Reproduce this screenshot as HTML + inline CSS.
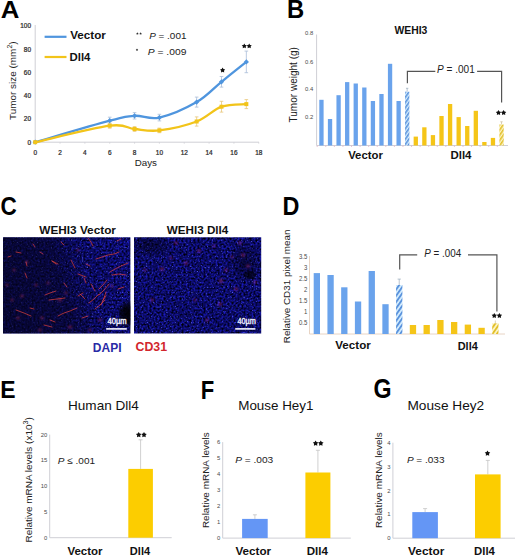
<!DOCTYPE html>
<html><head><meta charset="utf-8"><style>
html,body{margin:0;padding:0;background:#fff;}
svg{display:block;font-family:"Liberation Sans", sans-serif;}
</style></head><body>
<svg width="520" height="557" viewBox="0 0 520 557">
<rect width="520" height="557" fill="#fff"/>
<text transform="translate(0.71,18.29) scale(1.0556,0.9953)" font-size="24.4" fill="#000" font-weight="bold">A</text>
<line x1="35.20" y1="25.00" x2="35.20" y2="142.20" stroke="#cfcfd6" stroke-width="1" />
<line x1="35.20" y1="142.20" x2="259.00" y2="142.20" stroke="#cfcfd6" stroke-width="1" />
<text transform="translate(31.00,144.70) scale(0.9,1)" font-size="7.2" text-anchor="end" fill="#2a2a2a" stroke="#2a2a2a" stroke-width="0.25">0</text>
<text transform="translate(31.00,121.42) scale(0.9,1)" font-size="7.2" text-anchor="end" fill="#2a2a2a" stroke="#2a2a2a" stroke-width="0.25">20</text>
<text transform="translate(31.00,98.14) scale(0.9,1)" font-size="7.2" text-anchor="end" fill="#2a2a2a" stroke="#2a2a2a" stroke-width="0.25">40</text>
<text transform="translate(31.00,74.86) scale(0.9,1)" font-size="7.2" text-anchor="end" fill="#2a2a2a" stroke="#2a2a2a" stroke-width="0.25">60</text>
<text transform="translate(31.00,51.58) scale(0.9,1)" font-size="7.2" text-anchor="end" fill="#2a2a2a" stroke="#2a2a2a" stroke-width="0.25">80</text>
<text transform="translate(31.00,28.30) scale(0.9,1)" font-size="7.2" text-anchor="end" fill="#2a2a2a" stroke="#2a2a2a" stroke-width="0.25">100</text>
<text transform="translate(35.20,154.60) scale(0.9,1)" font-size="7.2" text-anchor="middle" fill="#2a2a2a" stroke="#2a2a2a" stroke-width="0.25">0</text>
<line x1="35.20" y1="142.20" x2="35.20" y2="143.70" stroke="#cfcfd6" stroke-width="0.8" />
<text transform="translate(60.04,154.60) scale(0.9,1)" font-size="7.2" text-anchor="middle" fill="#2a2a2a" stroke="#2a2a2a" stroke-width="0.25">2</text>
<line x1="60.04" y1="142.20" x2="60.04" y2="143.70" stroke="#cfcfd6" stroke-width="0.8" />
<text transform="translate(84.88,154.60) scale(0.9,1)" font-size="7.2" text-anchor="middle" fill="#2a2a2a" stroke="#2a2a2a" stroke-width="0.25">4</text>
<line x1="84.88" y1="142.20" x2="84.88" y2="143.70" stroke="#cfcfd6" stroke-width="0.8" />
<text transform="translate(109.72,154.60) scale(0.9,1)" font-size="7.2" text-anchor="middle" fill="#2a2a2a" stroke="#2a2a2a" stroke-width="0.25">6</text>
<line x1="109.72" y1="142.20" x2="109.72" y2="143.70" stroke="#cfcfd6" stroke-width="0.8" />
<text transform="translate(134.56,154.60) scale(0.9,1)" font-size="7.2" text-anchor="middle" fill="#2a2a2a" stroke="#2a2a2a" stroke-width="0.25">8</text>
<line x1="134.56" y1="142.20" x2="134.56" y2="143.70" stroke="#cfcfd6" stroke-width="0.8" />
<text transform="translate(159.40,154.60) scale(0.9,1)" font-size="7.2" text-anchor="middle" fill="#2a2a2a" stroke="#2a2a2a" stroke-width="0.25">10</text>
<line x1="159.40" y1="142.20" x2="159.40" y2="143.70" stroke="#cfcfd6" stroke-width="0.8" />
<text transform="translate(184.24,154.60) scale(0.9,1)" font-size="7.2" text-anchor="middle" fill="#2a2a2a" stroke="#2a2a2a" stroke-width="0.25">12</text>
<line x1="184.24" y1="142.20" x2="184.24" y2="143.70" stroke="#cfcfd6" stroke-width="0.8" />
<text transform="translate(209.08,154.60) scale(0.9,1)" font-size="7.2" text-anchor="middle" fill="#2a2a2a" stroke="#2a2a2a" stroke-width="0.25">14</text>
<line x1="209.08" y1="142.20" x2="209.08" y2="143.70" stroke="#cfcfd6" stroke-width="0.8" />
<text transform="translate(233.92,154.60) scale(0.9,1)" font-size="7.2" text-anchor="middle" fill="#2a2a2a" stroke="#2a2a2a" stroke-width="0.25">16</text>
<line x1="233.92" y1="142.20" x2="233.92" y2="143.70" stroke="#cfcfd6" stroke-width="0.8" />
<text transform="translate(258.76,154.60) scale(0.9,1)" font-size="7.2" text-anchor="middle" fill="#2a2a2a" stroke="#2a2a2a" stroke-width="0.25">18</text>
<line x1="258.76" y1="142.20" x2="258.76" y2="143.70" stroke="#cfcfd6" stroke-width="0.8" />
<text transform="translate(134.70,166.41) scale(1.0167,1.0000)" font-size="9.6" fill="#222">Days</text>
<text transform="translate(16.31,120.02) rotate(-90) scale(1.0154,1.0154)" font-size="9.8" fill="#222">Tumor size (mm<tspan font-size="7" dy="-3.8">2</tspan><tspan dy="3.8">)</tspan></text>
<line x1="109.72" y1="123.20" x2="109.72" y2="128.20" stroke="#e8c77a" stroke-width="0.8" />
<line x1="107.92" y1="123.20" x2="111.52" y2="123.20" stroke="#e8c77a" stroke-width="0.8" />
<line x1="107.92" y1="128.20" x2="111.52" y2="128.20" stroke="#e8c77a" stroke-width="0.8" />
<line x1="134.56" y1="126.60" x2="134.56" y2="131.40" stroke="#e8c77a" stroke-width="0.8" />
<line x1="132.76" y1="126.60" x2="136.36" y2="126.60" stroke="#e8c77a" stroke-width="0.8" />
<line x1="132.76" y1="131.40" x2="136.36" y2="131.40" stroke="#e8c77a" stroke-width="0.8" />
<line x1="159.40" y1="128.10" x2="159.40" y2="132.70" stroke="#e8c77a" stroke-width="0.8" />
<line x1="157.60" y1="128.10" x2="161.20" y2="128.10" stroke="#e8c77a" stroke-width="0.8" />
<line x1="157.60" y1="132.70" x2="161.20" y2="132.70" stroke="#e8c77a" stroke-width="0.8" />
<line x1="196.66" y1="116.90" x2="196.66" y2="126.10" stroke="#e8c77a" stroke-width="0.8" />
<line x1="194.86" y1="116.90" x2="198.46" y2="116.90" stroke="#e8c77a" stroke-width="0.8" />
<line x1="194.86" y1="126.10" x2="198.46" y2="126.10" stroke="#e8c77a" stroke-width="0.8" />
<line x1="221.50" y1="101.30" x2="221.50" y2="112.10" stroke="#e8c77a" stroke-width="0.8" />
<line x1="219.70" y1="101.30" x2="223.30" y2="101.30" stroke="#e8c77a" stroke-width="0.8" />
<line x1="219.70" y1="112.10" x2="223.30" y2="112.10" stroke="#e8c77a" stroke-width="0.8" />
<line x1="246.34" y1="99.60" x2="246.34" y2="108.60" stroke="#e8c77a" stroke-width="0.8" />
<line x1="244.54" y1="99.60" x2="248.14" y2="99.60" stroke="#e8c77a" stroke-width="0.8" />
<line x1="244.54" y1="108.60" x2="248.14" y2="108.60" stroke="#e8c77a" stroke-width="0.8" />
<line x1="109.72" y1="117.20" x2="109.72" y2="124.20" stroke="#a8bcd8" stroke-width="0.8" />
<line x1="107.92" y1="117.20" x2="111.52" y2="117.20" stroke="#a8bcd8" stroke-width="0.8" />
<line x1="107.92" y1="124.20" x2="111.52" y2="124.20" stroke="#a8bcd8" stroke-width="0.8" />
<line x1="134.56" y1="112.60" x2="134.56" y2="119.00" stroke="#a8bcd8" stroke-width="0.8" />
<line x1="132.76" y1="112.60" x2="136.36" y2="112.60" stroke="#a8bcd8" stroke-width="0.8" />
<line x1="132.76" y1="119.00" x2="136.36" y2="119.00" stroke="#a8bcd8" stroke-width="0.8" />
<line x1="159.40" y1="114.30" x2="159.40" y2="120.90" stroke="#a8bcd8" stroke-width="0.8" />
<line x1="157.60" y1="114.30" x2="161.20" y2="114.30" stroke="#a8bcd8" stroke-width="0.8" />
<line x1="157.60" y1="120.90" x2="161.20" y2="120.90" stroke="#a8bcd8" stroke-width="0.8" />
<line x1="196.66" y1="97.10" x2="196.66" y2="107.10" stroke="#a8bcd8" stroke-width="0.8" />
<line x1="194.86" y1="97.10" x2="198.46" y2="97.10" stroke="#a8bcd8" stroke-width="0.8" />
<line x1="194.86" y1="107.10" x2="198.46" y2="107.10" stroke="#a8bcd8" stroke-width="0.8" />
<line x1="221.50" y1="76.50" x2="221.50" y2="87.10" stroke="#a8bcd8" stroke-width="0.8" />
<line x1="219.70" y1="76.50" x2="223.30" y2="76.50" stroke="#a8bcd8" stroke-width="0.8" />
<line x1="219.70" y1="87.10" x2="223.30" y2="87.10" stroke="#a8bcd8" stroke-width="0.8" />
<line x1="246.34" y1="51.10" x2="246.34" y2="72.70" stroke="#a8bcd8" stroke-width="0.8" />
<line x1="244.54" y1="51.10" x2="248.14" y2="51.10" stroke="#a8bcd8" stroke-width="0.8" />
<line x1="244.54" y1="72.70" x2="248.14" y2="72.70" stroke="#a8bcd8" stroke-width="0.8" />
<path d="M35.20,142.20 C47.62,138.62 93.16,125.10 109.72,120.70 C126.28,116.30 126.28,116.32 134.56,115.80 C142.84,115.28 149.05,119.88 159.40,117.60 C169.75,115.32 186.31,108.07 196.66,102.10 C207.01,96.13 213.22,88.50 221.50,81.80 C229.78,75.10 242.20,65.22 246.34,61.90" fill="none" stroke="#4f95de" stroke-width="2.3"/>
<path d="M35.20,139.60 L37.80,142.20 L35.20,144.80 L32.60,142.20Z" fill="#4f95de"/>
<path d="M109.72,118.10 L112.32,120.70 L109.72,123.30 L107.12,120.70Z" fill="#4f95de"/>
<path d="M134.56,113.20 L137.16,115.80 L134.56,118.40 L131.96,115.80Z" fill="#4f95de"/>
<path d="M159.40,115.00 L162.00,117.60 L159.40,120.20 L156.80,117.60Z" fill="#4f95de"/>
<path d="M196.66,99.50 L199.26,102.10 L196.66,104.70 L194.06,102.10Z" fill="#4f95de"/>
<path d="M221.50,79.20 L224.10,81.80 L221.50,84.40 L218.90,81.80Z" fill="#4f95de"/>
<path d="M246.34,59.30 L248.94,61.90 L246.34,64.50 L243.74,61.90Z" fill="#4f95de"/>
<path d="M35.20,142.20 C47.62,139.45 93.16,127.90 109.72,125.70 C126.28,123.50 126.28,128.22 134.56,129.00 C142.84,129.78 149.05,131.65 159.40,130.40 C169.75,129.15 186.31,125.45 196.66,121.50 C207.01,117.55 213.22,109.60 221.50,106.70 C229.78,103.80 242.20,104.53 246.34,104.10" fill="none" stroke="#f2c41a" stroke-width="2.3"/>
<rect x="33.20" y="140.20" width="4" height="4" fill="#f2c41a"/>
<rect x="107.72" y="123.70" width="4" height="4" fill="#f2c41a"/>
<rect x="132.56" y="127.00" width="4" height="4" fill="#f2c41a"/>
<rect x="157.40" y="128.40" width="4" height="4" fill="#f2c41a"/>
<rect x="194.66" y="119.50" width="4" height="4" fill="#f2c41a"/>
<rect x="219.50" y="104.70" width="4" height="4" fill="#f2c41a"/>
<rect x="244.34" y="102.10" width="4" height="4" fill="#f2c41a"/>
<polygon points="222.60,67.60 223.47,69.10 225.17,69.47 224.01,70.76 224.19,72.48 222.60,71.78 221.01,72.48 221.19,70.76 220.03,69.47 221.73,69.10" fill="#111"/>
<polygon points="244.30,43.40 245.17,44.90 246.87,45.27 245.71,46.56 245.89,48.28 244.30,47.59 242.71,48.28 242.89,46.56 241.73,45.27 243.43,44.90" fill="#111"/>
<polygon points="249.20,43.40 250.07,44.90 251.77,45.27 250.61,46.56 250.79,48.28 249.20,47.59 247.61,48.28 247.79,46.56 246.63,45.27 248.33,44.90" fill="#111"/>
<line x1="44.60" y1="36.80" x2="66.50" y2="36.80" stroke="#4f95de" stroke-width="2.2" />
<line x1="44.60" y1="57.00" x2="66.50" y2="57.00" stroke="#f2c41a" stroke-width="2.2" />
<text transform="translate(70.14,39.35) scale(1.0152,1.0000)" font-size="11.5" fill="#111" font-weight="bold">Vector</text>
<text transform="translate(69.57,60.80) scale(0.9904,1.0000)" font-size="11.5" fill="#111" font-weight="bold">Dll4</text>
<polygon points="137.40,32.30 137.82,33.02 138.64,33.20 138.08,33.82 138.16,34.65 137.40,34.32 136.64,34.65 136.72,33.82 136.16,33.20 136.98,33.02" fill="#333"/>
<polygon points="140.60,32.30 141.02,33.02 141.84,33.20 141.28,33.82 141.36,34.65 140.60,34.32 139.84,34.65 139.92,33.82 139.36,33.20 140.18,33.02" fill="#333"/>
<polygon points="137.00,48.60 137.42,49.32 138.24,49.50 137.68,50.12 137.76,50.95 137.00,50.62 136.24,50.95 136.32,50.12 135.76,49.50 136.58,49.32" fill="#333"/>
<text transform="translate(149.15,38.76) scale(1.0147,1.0000)" font-size="9.8" fill="#222"><tspan font-style="italic">P</tspan> = .001</text>
<text transform="translate(147.80,55.43) scale(1.0498,1.0000)" font-size="9.8" fill="#222"><tspan font-style="italic">P</tspan> = .009</text>
<text transform="translate(286.94,18.10) scale(0.9769,1.0303)" font-size="24.4" fill="#000" font-weight="bold">B</text>
<line x1="316.60" y1="34.50" x2="316.60" y2="145.50" stroke="#cfcfd6" stroke-width="1" />
<line x1="316.60" y1="145.50" x2="508.00" y2="145.50" stroke="#cfcfd6" stroke-width="1" />
<text transform="translate(313.20,35.40) scale(0.95,1)" font-size="6.2" text-anchor="end" fill="#4a4a4a">0.8</text>
<text transform="translate(313.20,63.50) scale(0.95,1)" font-size="6.2" text-anchor="end" fill="#4a4a4a">0.6</text>
<text transform="translate(313.20,91.10) scale(0.95,1)" font-size="6.2" text-anchor="end" fill="#4a4a4a">0.4</text>
<text transform="translate(313.20,118.90) scale(0.95,1)" font-size="6.2" text-anchor="end" fill="#4a4a4a">0.2</text>
<text transform="translate(296.98,122.45) rotate(-90) scale(1.0231,1.0231)" font-size="9.8" fill="#222">Tumor weight (g)</text>
<text transform="translate(394.44,34.45) scale(0.9901,1.0000)" font-size="10.5" fill="#111" font-weight="bold">WEHI3</text>
<defs><pattern id="hb" width="3" height="3" patternUnits="userSpaceOnUse" patternTransform="rotate(35)"><rect width="3" height="3" fill="#d6efff"/><rect width="1.6" height="3" fill="#5a92dc"/></pattern><pattern id="hy" width="3" height="3" patternUnits="userSpaceOnUse" patternTransform="rotate(35)"><rect width="3" height="3" fill="#fdf6c8"/><rect width="1.6" height="3" fill="#e2bf2a"/></pattern><pattern id="hb2" width="3.6" height="3.6" patternUnits="userSpaceOnUse" patternTransform="rotate(35)"><rect width="3.6" height="3.6" fill="#d6efff"/><rect width="1.9" height="3.6" fill="#5a92dc"/></pattern><pattern id="hy2" width="3.6" height="3.6" patternUnits="userSpaceOnUse" patternTransform="rotate(35)"><rect width="3.6" height="3.6" fill="#fdf6c8"/><rect width="1.9" height="3.6" fill="#e2bf2a"/></pattern></defs>
<line x1="317.20" y1="145.50" x2="317.20" y2="147.00" stroke="#e3b5c8" stroke-width="0.8" />
<rect x="319.30" y="99.80" width="4.30" height="45.70" fill="#6aa3ec" />
<line x1="325.78" y1="145.50" x2="325.78" y2="147.00" stroke="#e3b5c8" stroke-width="0.8" />
<rect x="327.88" y="119.00" width="4.30" height="26.50" fill="#6aa3ec" />
<line x1="334.35" y1="145.50" x2="334.35" y2="147.00" stroke="#e3b5c8" stroke-width="0.8" />
<rect x="336.45" y="95.20" width="4.30" height="50.30" fill="#6aa3ec" />
<line x1="342.93" y1="145.50" x2="342.93" y2="147.00" stroke="#e3b5c8" stroke-width="0.8" />
<rect x="345.03" y="82.10" width="4.30" height="63.40" fill="#6aa3ec" />
<line x1="351.50" y1="145.50" x2="351.50" y2="147.00" stroke="#e3b5c8" stroke-width="0.8" />
<rect x="353.60" y="83.50" width="4.30" height="62.00" fill="#6aa3ec" />
<line x1="360.08" y1="145.50" x2="360.08" y2="147.00" stroke="#e3b5c8" stroke-width="0.8" />
<rect x="362.18" y="87.50" width="4.30" height="58.00" fill="#6aa3ec" />
<line x1="368.66" y1="145.50" x2="368.66" y2="147.00" stroke="#e3b5c8" stroke-width="0.8" />
<rect x="370.76" y="101.00" width="4.30" height="44.50" fill="#6aa3ec" />
<line x1="377.23" y1="145.50" x2="377.23" y2="147.00" stroke="#e3b5c8" stroke-width="0.8" />
<rect x="379.33" y="94.00" width="4.30" height="51.50" fill="#6aa3ec" />
<line x1="385.81" y1="145.50" x2="385.81" y2="147.00" stroke="#e3b5c8" stroke-width="0.8" />
<rect x="387.91" y="63.80" width="4.30" height="81.70" fill="#6aa3ec" />
<line x1="394.38" y1="145.50" x2="394.38" y2="147.00" stroke="#e3b5c8" stroke-width="0.8" />
<rect x="396.48" y="101.00" width="4.30" height="44.50" fill="#6aa3ec" />
<line x1="402.96" y1="145.50" x2="402.96" y2="147.00" stroke="#e3b5c8" stroke-width="0.8" />
<line x1="407.16" y1="88.30" x2="407.16" y2="91.70" stroke="#9ab" stroke-width="0.7" />
<line x1="405.96" y1="88.30" x2="408.36" y2="88.30" stroke="#9ab" stroke-width="0.7" />
<rect x="405.06" y="91.70" width="4.30" height="53.80" fill="url(#hb)" />
<line x1="411.54" y1="145.50" x2="411.54" y2="147.00" stroke="#e3b5c8" stroke-width="0.8" />
<rect x="413.64" y="136.60" width="4.30" height="8.90" fill="#f5c518" />
<line x1="420.11" y1="145.50" x2="420.11" y2="147.00" stroke="#e3b5c8" stroke-width="0.8" />
<rect x="422.21" y="127.30" width="4.30" height="18.20" fill="#f5c518" />
<line x1="428.69" y1="145.50" x2="428.69" y2="147.00" stroke="#e3b5c8" stroke-width="0.8" />
<rect x="430.79" y="135.10" width="4.30" height="10.40" fill="#f5c518" />
<line x1="437.26" y1="145.50" x2="437.26" y2="147.00" stroke="#e3b5c8" stroke-width="0.8" />
<rect x="439.36" y="116.00" width="4.30" height="29.50" fill="#f5c518" />
<line x1="445.84" y1="145.50" x2="445.84" y2="147.00" stroke="#e3b5c8" stroke-width="0.8" />
<rect x="447.94" y="104.00" width="4.30" height="41.50" fill="#f5c518" />
<line x1="454.42" y1="145.50" x2="454.42" y2="147.00" stroke="#e3b5c8" stroke-width="0.8" />
<rect x="456.52" y="117.10" width="4.30" height="28.40" fill="#f5c518" />
<line x1="462.99" y1="145.50" x2="462.99" y2="147.00" stroke="#e3b5c8" stroke-width="0.8" />
<rect x="465.09" y="126.00" width="4.30" height="19.50" fill="#f5c518" />
<line x1="471.57" y1="145.50" x2="471.57" y2="147.00" stroke="#e3b5c8" stroke-width="0.8" />
<rect x="473.67" y="110.80" width="4.30" height="34.70" fill="#f5c518" />
<line x1="480.14" y1="145.50" x2="480.14" y2="147.00" stroke="#e3b5c8" stroke-width="0.8" />
<rect x="482.24" y="142.00" width="4.30" height="3.50" fill="#f5c518" />
<line x1="488.72" y1="145.50" x2="488.72" y2="147.00" stroke="#e3b5c8" stroke-width="0.8" />
<rect x="490.82" y="137.90" width="4.30" height="7.60" fill="#f5c518" />
<line x1="497.30" y1="145.50" x2="497.30" y2="147.00" stroke="#e3b5c8" stroke-width="0.8" />
<line x1="501.50" y1="121.80" x2="501.50" y2="124.50" stroke="#cb9" stroke-width="0.7" />
<line x1="500.30" y1="121.80" x2="502.70" y2="121.80" stroke="#cb9" stroke-width="0.7" />
<rect x="499.40" y="124.50" width="4.30" height="21.00" fill="url(#hy)" />
<path d="M407.4,83.3 V71.3 H435.3 M477.1,71.3 H501.6 V102.5" fill="none" stroke="#555" stroke-width="1.2"/>
<text transform="translate(437.07,73.11) scale(1.0049,1.0000)" font-size="10" fill="#222"><tspan font-style="italic">P</tspan> = .001</text>
<polygon points="498.50,110.00 499.41,111.55 501.16,111.93 499.96,113.28 500.15,115.07 498.50,114.34 496.85,115.07 497.04,113.28 495.84,111.93 497.59,111.55" fill="#111"/>
<polygon points="503.60,110.00 504.51,111.55 506.26,111.93 505.06,113.28 505.25,115.07 503.60,114.34 501.95,115.07 502.14,113.28 500.94,111.93 502.69,111.55" fill="#111"/>
<text transform="translate(348.13,158.70) scale(1.0050,1.0000)" font-size="11.3" fill="#111" font-weight="bold">Vector</text>
<text transform="translate(450.48,158.70) scale(1.0150,1.0000)" font-size="11.3" fill="#111" font-weight="bold">Dll4</text>
<text transform="translate(0.43,215.32) scale(0.9229,1.0945)" font-size="24.4" fill="#000" font-weight="bold">C</text>
<text transform="translate(39.28,233.95) scale(1.0264,1.0000)" font-size="11.5" fill="#111" font-weight="bold">WEHI3 Vector</text>
<text transform="translate(166.71,233.95) scale(1.0164,1.0000)" font-size="11.5" fill="#111" font-weight="bold">WEHI3 Dll4</text>
<defs>
<filter id="nzA" x="0" y="0" width="1" height="1" color-interpolation-filters="sRGB" filterUnits="objectBoundingBox">
 <feTurbulence type="fractalNoise" baseFrequency="0.5" numOctaves="2" seed="4" result="n"/>
 <feColorMatrix in="n" type="matrix" values="0.2 0 0 0 -0.06  0.2 0 0 0 -0.06  1.2 0 0 0 -0.2  0 0 0 0 1" result="base"/>
 <feTurbulence type="fractalNoise" baseFrequency="0.8" numOctaves="1" seed="31" result="n2"/>
 <feColorMatrix in="n2" type="matrix" values="0 0 0 0 0.33  0 0 0 0 0.36  0 0 0 0 0.95  5 0 0 0 -3.1" result="dots"/>
 <feComposite in="dots" in2="base" operator="over"/>
 <feGaussianBlur stdDeviation="0.35"/>
</filter>
<filter id="nzB" x="0" y="0" width="1" height="1" color-interpolation-filters="sRGB" filterUnits="objectBoundingBox">
 <feTurbulence type="fractalNoise" baseFrequency="0.5" numOctaves="2" seed="9" result="n"/>
 <feColorMatrix in="n" type="matrix" values="0.2 0 0 0 -0.06  0.2 0 0 0 -0.06  1.2 0 0 0 -0.22  0 0 0 0 1" result="base"/>
 <feTurbulence type="fractalNoise" baseFrequency="0.8" numOctaves="1" seed="37" result="n2"/>
 <feColorMatrix in="n2" type="matrix" values="0 0 0 0 0.33  0 0 0 0 0.36  0 0 0 0 0.95  5 0 0 0 -3.15" result="dots"/>
 <feComposite in="dots" in2="base" operator="over"/>
 <feGaussianBlur stdDeviation="0.35"/>
</filter>
<filter id="blr" x="-20%" y="-20%" width="140%" height="140%"><feGaussianBlur stdDeviation="0.45"/></filter>
<filter id="blr2" x="-50%" y="-50%" width="200%" height="200%"><feGaussianBlur stdDeviation="0.8"/></filter>
<linearGradient id="darkL" x1="0" y1="0.6" x2="1" y2="0.4">
 <stop offset="0" stop-color="#05041e" stop-opacity="0.72"/>
 <stop offset="0.45" stop-color="#05041e" stop-opacity="0.6"/>
 <stop offset="0.68" stop-color="#05041e" stop-opacity="0.15"/>
 <stop offset="1" stop-color="#05041e" stop-opacity="0"/>
</linearGradient>
<radialGradient id="blk" cx="0.5" cy="0.5" r="0.5">
 <stop offset="0" stop-color="#000" stop-opacity="0.95"/>
 <stop offset="0.6" stop-color="#000" stop-opacity="0.75"/>
 <stop offset="1" stop-color="#000" stop-opacity="0"/>
</radialGradient>
<radialGradient id="dk" cx="0.5" cy="0.5" r="0.5">
 <stop offset="0" stop-color="#03021a" stop-opacity="0.6"/>
 <stop offset="1" stop-color="#03021a" stop-opacity="0"/>
</radialGradient>
<clipPath id="cL"><rect x="3" y="237.2" width="127.4" height="96.4"/></clipPath>
<clipPath id="cR"><rect x="134" y="237.2" width="127.2" height="96.4"/></clipPath>
</defs>
<g clip-path="url(#cL)">
<rect x="3" y="237.2" width="127.4" height="96.4" filter="url(#nzA)"/>
<rect x="3" y="237.2" width="127.4" height="96.4" fill="url(#darkL)"/>
<ellipse cx="128" cy="314" rx="11" ry="14" fill="url(#blk)"/>
<g filter="url(#blr2)">
<ellipse cx="60.0" cy="300.0" rx="2.0" ry="1.3" fill="#c03060" opacity="0.55"/>
<ellipse cx="22.0" cy="296.0" rx="1.6" ry="1.3" fill="#c03060" opacity="0.55"/>
<ellipse cx="12.0" cy="300.0" rx="1.3" ry="1.3" fill="#c03060" opacity="0.55"/>
<ellipse cx="18.0" cy="318.0" rx="1.7" ry="1.3" fill="#c03060" opacity="0.55"/>
<ellipse cx="42.0" cy="318.0" rx="1.7" ry="1.3" fill="#c03060" opacity="0.55"/>
<ellipse cx="70.0" cy="327.0" rx="2.0" ry="1.3" fill="#c03060" opacity="0.55"/>
<ellipse cx="36.0" cy="285.0" rx="1.3" ry="1.3" fill="#c03060" opacity="0.55"/>
<ellipse cx="14.0" cy="270.0" rx="1.3" ry="1.3" fill="#c03060" opacity="0.55"/>
<ellipse cx="48.0" cy="283.0" rx="1.3" ry="1.3" fill="#c03060" opacity="0.55"/>
<ellipse cx="100.0" cy="320.0" rx="1.7" ry="1.3" fill="#c03060" opacity="0.55"/>
<ellipse cx="112.0" cy="286.0" rx="1.3" ry="1.3" fill="#c03060" opacity="0.55"/>
<ellipse cx="78.0" cy="250.0" rx="1.3" ry="1.3" fill="#c03060" opacity="0.55"/>
<ellipse cx="27.0" cy="262.0" rx="1.3" ry="1.3" fill="#c03060" opacity="0.55"/>
<ellipse cx="7.0" cy="285.0" rx="1.3" ry="1.3" fill="#c03060" opacity="0.55"/>
<ellipse cx="40.0" cy="330.0" rx="1.6" ry="1.3" fill="#c03060" opacity="0.55"/>
<ellipse cx="90.0" cy="330.0" rx="1.3" ry="1.3" fill="#c03060" opacity="0.55"/>
<ellipse cx="66.0" cy="293.0" rx="1.3" ry="1.3" fill="#c03060" opacity="0.55"/>
</g>
<g filter="url(#blr)">
<path d="M88.0,238.0 L91.0,242.0 L93.0,246.0" fill="none" stroke="#e0403c" stroke-width="1.0" stroke-linecap="round" stroke-linejoin="round" opacity="0.7"/>
<path d="M96.0,259.0 L102.0,257.0 L108.0,255.0 L114.0,254.0 L119.0,252.0" fill="none" stroke="#e0403c" stroke-width="1.0" stroke-linecap="round" stroke-linejoin="round" opacity="0.7"/>
<path d="M110.0,272.0 L115.0,269.0 L121.0,266.0 L128.0,263.0" fill="none" stroke="#e0403c" stroke-width="1.0" stroke-linecap="round" stroke-linejoin="round" opacity="0.7"/>
<path d="M112.0,275.0 L119.0,274.0 L126.0,275.0" fill="none" stroke="#e0403c" stroke-width="1.0" stroke-linecap="round" stroke-linejoin="round" opacity="0.7"/>
<path d="M71.0,260.0 L73.0,264.0 L75.0,268.0" fill="none" stroke="#e0403c" stroke-width="1.0" stroke-linecap="round" stroke-linejoin="round" opacity="0.7"/>
<path d="M45.0,295.0 L50.0,293.0 L56.0,291.0" fill="none" stroke="#e0403c" stroke-width="1.0" stroke-linecap="round" stroke-linejoin="round" opacity="0.7"/>
<path d="M58.0,316.0 L64.0,313.0 L70.0,311.0 L77.0,308.0" fill="none" stroke="#e0403c" stroke-width="1.0" stroke-linecap="round" stroke-linejoin="round" opacity="0.7"/>
<path d="M89.0,303.0 L94.0,299.0 L99.0,294.0" fill="none" stroke="#e0403c" stroke-width="1.0" stroke-linecap="round" stroke-linejoin="round" opacity="0.7"/>
<path d="M95.0,309.0 L100.0,305.0 L105.0,300.0" fill="none" stroke="#e0403c" stroke-width="1.0" stroke-linecap="round" stroke-linejoin="round" opacity="0.7"/>
<path d="M99.0,289.0 L103.0,285.0 L107.0,280.0" fill="none" stroke="#e0403c" stroke-width="1.0" stroke-linecap="round" stroke-linejoin="round" opacity="0.7"/>
<path d="M103.0,300.0 L106.0,296.0" fill="none" stroke="#e0403c" stroke-width="1.0" stroke-linecap="round" stroke-linejoin="round" opacity="0.7"/>
<path d="M16.0,252.0 L21.0,253.0" fill="none" stroke="#e0403c" stroke-width="1.0" stroke-linecap="round" stroke-linejoin="round" opacity="0.7"/>
<path d="M8.0,257.0 L11.0,256.0" fill="none" stroke="#e0403c" stroke-width="1.0" stroke-linecap="round" stroke-linejoin="round" opacity="0.7"/>
<path d="M25.0,273.0 L27.0,278.0" fill="none" stroke="#e0403c" stroke-width="1.0" stroke-linecap="round" stroke-linejoin="round" opacity="0.7"/>
<path d="M52.0,261.0 L56.0,263.0 L58.0,264.0" fill="none" stroke="#e0403c" stroke-width="1.0" stroke-linecap="round" stroke-linejoin="round" opacity="0.7"/>
<path d="M84.0,278.0 L86.0,283.0" fill="none" stroke="#e0403c" stroke-width="1.0" stroke-linecap="round" stroke-linejoin="round" opacity="0.7"/>
<path d="M64.0,283.0 L67.0,287.0" fill="none" stroke="#e0403c" stroke-width="1.0" stroke-linecap="round" stroke-linejoin="round" opacity="0.7"/>
<path d="M118.0,289.0 L124.0,287.0" fill="none" stroke="#e0403c" stroke-width="1.0" stroke-linecap="round" stroke-linejoin="round" opacity="0.7"/>
<path d="M78.0,296.0 L83.0,293.0" fill="none" stroke="#e0403c" stroke-width="1.0" stroke-linecap="round" stroke-linejoin="round" opacity="0.7"/>
<path d="M50.0,320.0 L55.0,322.0" fill="none" stroke="#e0403c" stroke-width="1.0" stroke-linecap="round" stroke-linejoin="round" opacity="0.7"/>
<path d="M30.0,308.0 L34.0,309.0" fill="none" stroke="#e0403c" stroke-width="1.0" stroke-linecap="round" stroke-linejoin="round" opacity="0.7"/>
<path d="M82.0,318.0 L88.0,316.0" fill="none" stroke="#e0403c" stroke-width="1.0" stroke-linecap="round" stroke-linejoin="round" opacity="0.7"/>
<path d="M117.0,241.0 L121.0,239.0" fill="none" stroke="#e0403c" stroke-width="1.0" stroke-linecap="round" stroke-linejoin="round" opacity="0.7"/>
<path d="M86.0,264.0 L90.0,266.0" fill="none" stroke="#e0403c" stroke-width="1.0" stroke-linecap="round" stroke-linejoin="round" opacity="0.7"/>
<path d="M61.0,242.0 L64.0,245.0" fill="none" stroke="#e0403c" stroke-width="1.0" stroke-linecap="round" stroke-linejoin="round" opacity="0.7"/>
<path d="M40.0,252.0 L43.0,254.0" fill="none" stroke="#e0403c" stroke-width="1.0" stroke-linecap="round" stroke-linejoin="round" opacity="0.7"/>
<path d="M33.0,244.0 L35.0,247.0" fill="none" stroke="#e0403c" stroke-width="1.0" stroke-linecap="round" stroke-linejoin="round" opacity="0.7"/>
<path d="M49.0,300.0 L57.0,299.0 L65.0,298.0" fill="none" stroke="#e0403c" stroke-width="1.0" stroke-linecap="round" stroke-linejoin="round" opacity="0.7"/>
<path d="M99.0,295.0 L104.0,290.0 L109.0,284.0" fill="none" stroke="#e0403c" stroke-width="1.0" stroke-linecap="round" stroke-linejoin="round" opacity="0.7"/>
<path d="M101.0,305.0 L104.0,298.0 L106.0,292.0" fill="none" stroke="#e0403c" stroke-width="1.0" stroke-linecap="round" stroke-linejoin="round" opacity="0.7"/>
<path d="M16.0,310.0 L24.0,313.0 L31.0,316.0" fill="none" stroke="#e0403c" stroke-width="1.0" stroke-linecap="round" stroke-linejoin="round" opacity="0.7"/>
<path d="M52.0,261.0 L56.0,264.0" fill="none" stroke="#e0403c" stroke-width="1.0" stroke-linecap="round" stroke-linejoin="round" opacity="0.7"/>
<path d="M78.0,274.0 L86.0,277.0" fill="none" stroke="#e0403c" stroke-width="1.0" stroke-linecap="round" stroke-linejoin="round" opacity="0.7"/>
<path d="M91.0,284.0 L95.0,291.0" fill="none" stroke="#e0403c" stroke-width="1.0" stroke-linecap="round" stroke-linejoin="round" opacity="0.7"/>
<path d="M80.0,294.0 L85.0,299.0" fill="none" stroke="#e0403c" stroke-width="1.0" stroke-linecap="round" stroke-linejoin="round" opacity="0.7"/>
<path d="M44.0,325.0 L52.0,327.0" fill="none" stroke="#e0403c" stroke-width="1.0" stroke-linecap="round" stroke-linejoin="round" opacity="0.7"/>
<path d="M26.0,262.0 L27.0,266.0" fill="none" stroke="#e0403c" stroke-width="1.0" stroke-linecap="round" stroke-linejoin="round" opacity="0.7"/>
</g>
</g>
<g clip-path="url(#cR)">
<rect x="134" y="237.2" width="127.2" height="96.4" filter="url(#nzB)"/>
<ellipse cx="150" cy="245" rx="25" ry="14" fill="url(#dk)"/>
<ellipse cx="245" cy="262" rx="18" ry="22" fill="url(#dk)"/>
<ellipse cx="250" cy="275" rx="6" ry="4" fill="#000" opacity="0.55"/>
<g filter="url(#blr2)">
<ellipse cx="162.0" cy="269.0" rx="2.1" ry="1.6" fill="#c83060" opacity="0.5"/>
<ellipse cx="186.0" cy="263.0" rx="2.0" ry="1.6" fill="#c83060" opacity="0.5"/>
<ellipse cx="199.0" cy="251.0" rx="1.8" ry="1.4" fill="#c83060" opacity="0.5"/>
<ellipse cx="221.0" cy="281.0" rx="1.7" ry="2.3" fill="#c83060" opacity="0.5"/>
<ellipse cx="243.0" cy="255.0" rx="2.1" ry="1.6" fill="#c83060" opacity="0.5"/>
<ellipse cx="248.0" cy="266.0" rx="1.8" ry="1.6" fill="#c83060" opacity="0.5"/>
<ellipse cx="236.0" cy="289.0" rx="2.1" ry="1.6" fill="#c83060" opacity="0.5"/>
<ellipse cx="220.0" cy="304.0" rx="1.8" ry="1.6" fill="#c83060" opacity="0.5"/>
<ellipse cx="152.0" cy="300.0" rx="1.7" ry="1.4" fill="#c83060" opacity="0.5"/>
<ellipse cx="240.0" cy="243.0" rx="1.7" ry="1.4" fill="#c83060" opacity="0.5"/>
<ellipse cx="207.0" cy="320.0" rx="1.6" ry="1.6" fill="#c83060" opacity="0.5"/>
<ellipse cx="176.0" cy="243.0" rx="1.7" ry="1.4" fill="#c83060" opacity="0.5"/>
<ellipse cx="226.0" cy="270.0" rx="1.6" ry="1.6" fill="#c83060" opacity="0.5"/>
<ellipse cx="255.0" cy="282.0" rx="1.6" ry="1.6" fill="#c83060" opacity="0.5"/>
<ellipse cx="171.0" cy="258.0" rx="1.3" ry="1.3" fill="#c83060" opacity="0.5"/>
<ellipse cx="145.0" cy="270.0" rx="1.3" ry="1.3" fill="#c83060" opacity="0.5"/>
<ellipse cx="195.0" cy="300.0" rx="1.3" ry="1.3" fill="#c83060" opacity="0.5"/>
<ellipse cx="232.0" cy="257.0" rx="1.3" ry="1.3" fill="#c83060" opacity="0.5"/>
<ellipse cx="214.0" cy="246.0" rx="1.3" ry="1.3" fill="#c83060" opacity="0.5"/>
</g>
</g>

<rect x="106.20" y="328.10" width="20.60" height="1.60" fill="#f4f4ff" />
<rect x="235.20" y="328.10" width="20.20" height="1.60" fill="#f4f4ff" />
<text transform="translate(107.46,323.90) scale(0.9279,1.0000)" font-size="8.2" fill="#f4f4ff" stroke="#f4f4ff" stroke-width="0.35">40µm</text>
<text transform="translate(237.44,323.90) scale(0.8818,1.0000)" font-size="8.2" fill="#f4f4ff" stroke="#f4f4ff" stroke-width="0.35">40µm</text>
<text transform="translate(92.86,351.75) scale(0.9089,1.0000)" font-size="13.2" fill="#2a2aa6" font-weight="bold">DAPI</text>
<text transform="translate(135.50,350.95) scale(0.9364,1.0000)" font-size="13.2" fill="#d2262c" font-weight="bold">CD31</text>
<text transform="translate(282.51,214.72) scale(0.9604,1.0588)" font-size="24.4" fill="#000" font-weight="bold">D</text>
<line x1="309.50" y1="256.00" x2="309.50" y2="334.00" stroke="#e8d4c4" stroke-width="1" />
<line x1="309.50" y1="334.00" x2="505.00" y2="334.00" stroke="#e8d4c4" stroke-width="1" />
<text transform="translate(307.30,325.20) scale(0.95,1)" font-size="6.3" text-anchor="end" fill="#4a4a4a">0.5</text>
<text transform="translate(307.30,314.20) scale(0.95,1)" font-size="6.3" text-anchor="end" fill="#4a4a4a">1</text>
<text transform="translate(307.30,303.20) scale(0.95,1)" font-size="6.3" text-anchor="end" fill="#4a4a4a">1.5</text>
<text transform="translate(307.30,292.20) scale(0.95,1)" font-size="6.3" text-anchor="end" fill="#4a4a4a">2</text>
<text transform="translate(307.30,281.20) scale(0.95,1)" font-size="6.3" text-anchor="end" fill="#4a4a4a">2.5</text>
<text transform="translate(307.30,270.20) scale(0.95,1)" font-size="6.3" text-anchor="end" fill="#4a4a4a">3</text>
<text transform="translate(307.30,259.20) scale(0.95,1)" font-size="6.3" text-anchor="end" fill="#4a4a4a">3.5</text>
<text transform="translate(290.31,343.22) rotate(-90) scale(1.0141,1.0141)" font-size="9.7" fill="#222">Relative CD31 pixel mean</text>
<rect x="313.70" y="273.10" width="6.30" height="60.90" fill="#6aa3ec" />
<rect x="327.43" y="275.00" width="6.30" height="59.00" fill="#6aa3ec" />
<rect x="341.16" y="287.30" width="6.30" height="46.70" fill="#6aa3ec" />
<rect x="354.89" y="301.50" width="6.30" height="32.50" fill="#6aa3ec" />
<rect x="368.62" y="271.00" width="6.30" height="63.00" fill="#6aa3ec" />
<rect x="382.35" y="304.20" width="6.30" height="29.80" fill="#6aa3ec" />
<line x1="399.23" y1="279.10" x2="399.23" y2="285.00" stroke="#9ab" stroke-width="0.7" />
<line x1="397.58" y1="279.10" x2="400.88" y2="279.10" stroke="#9ab" stroke-width="0.7" />
<rect x="396.08" y="285.00" width="6.30" height="49.00" fill="url(#hb2)" />
<rect x="409.81" y="325.00" width="6.30" height="9.00" fill="#f5c518" />
<rect x="423.54" y="325.00" width="6.30" height="9.00" fill="#f5c518" />
<rect x="437.27" y="320.00" width="6.30" height="14.00" fill="#f5c518" />
<rect x="451.00" y="322.00" width="6.30" height="12.00" fill="#f5c518" />
<rect x="464.73" y="324.60" width="6.30" height="9.40" fill="#f5c518" />
<rect x="478.46" y="327.80" width="6.30" height="6.20" fill="#f5c518" />
<line x1="495.34" y1="320.50" x2="495.34" y2="323.30" stroke="#cb9" stroke-width="0.7" />
<rect x="492.19" y="323.30" width="6.30" height="10.70" fill="url(#hy2)" />
<path d="M399.7,269.6 V254.8 H417.2 M468,254.8 H496.9 V311.6" fill="none" stroke="#555" stroke-width="1.2"/>
<text transform="translate(424.31,257.21) scale(0.9839,1.0000)" font-size="10" fill="#222"><tspan font-style="italic">P</tspan> = .004</text>
<polygon points="494.30,312.90 495.21,314.45 496.96,314.83 495.76,316.18 495.95,317.97 494.30,317.24 492.65,317.97 492.84,316.18 491.64,314.83 493.39,314.45" fill="#111"/>
<polygon points="499.40,312.90 500.31,314.45 502.06,314.83 500.86,316.18 501.05,317.97 499.40,317.24 497.75,317.97 497.94,316.18 496.74,314.83 498.49,314.45" fill="#111"/>
<text transform="translate(335.25,349.45) scale(1.0108,1.0000)" font-size="11.5" fill="#111" font-weight="bold">Vector</text>
<text transform="translate(457.70,349.75) scale(0.9518,1.0000)" font-size="11.5" fill="#111" font-weight="bold">Dll4</text>
<text transform="translate(0.32,397.97) scale(0.9419,1.0067)" font-size="24.4" fill="#000" font-weight="bold">E</text>
<text transform="translate(68.04,409.70) scale(1.0205,1.0000)" font-size="13.3" fill="#111">Human Dll4</text>
<line x1="49.70" y1="434.60" x2="49.70" y2="537.70" stroke="#cfcfd6" stroke-width="1" />
<line x1="49.70" y1="537.70" x2="171.70" y2="537.70" stroke="#cfcfd6" stroke-width="1" />
<text transform="translate(47.30,539.80) scale(0.95,1)" font-size="6.2" text-anchor="end" fill="#4a4a4a">0</text>
<text transform="translate(47.30,514.03) scale(0.95,1)" font-size="6.2" text-anchor="end" fill="#4a4a4a">5</text>
<text transform="translate(47.30,488.25) scale(0.95,1)" font-size="6.2" text-anchor="end" fill="#4a4a4a">10</text>
<text transform="translate(47.30,462.48) scale(0.95,1)" font-size="6.2" text-anchor="end" fill="#4a4a4a">15</text>
<text transform="translate(47.30,436.70) scale(0.95,1)" font-size="6.2" text-anchor="end" fill="#4a4a4a">20</text>
<text transform="translate(32.05,542.54) rotate(-90) scale(1.0180,1.0180)" font-size="9.8" fill="#222">Relative mRNA levels (x10<tspan font-size="7" dy="-3.8">3</tspan><tspan dy="3.8">)</tspan></text>
<line x1="140.60" y1="439.80" x2="140.60" y2="468.90" stroke="#c4c4c4" stroke-width="0.8" />
<line x1="138.60" y1="439.80" x2="142.60" y2="439.80" stroke="#c4c4c4" stroke-width="0.8" />
<rect x="128.30" y="468.90" width="24.60" height="68.80" fill="#fccd00" />
<polygon points="138.70,431.90 139.64,433.51 141.46,433.90 140.22,435.29 140.40,437.15 138.70,436.40 137.00,437.15 137.18,435.29 135.94,433.90 137.76,433.51" fill="#111"/>
<polygon points="144.00,431.90 144.94,433.51 146.76,433.90 145.52,435.29 145.70,437.15 144.00,436.40 142.30,437.15 142.48,435.29 141.24,433.90 143.06,433.51" fill="#111"/>
<text transform="translate(57.85,464.16) scale(1.0214,1.0000)" font-size="9.8" fill="#222"><tspan font-style="italic">P</tspan> ≤ .001</text>
<text transform="translate(67.43,555.45) scale(1.0161,1.0000)" font-size="11.3" fill="#111" font-weight="bold">Vector</text>
<text transform="translate(129.84,555.45) scale(0.9787,1.0000)" font-size="11.3" fill="#111" font-weight="bold">Dll4</text>
<text transform="translate(200.87,398.78) scale(0.9040,1.0240)" font-size="24.4" fill="#000" font-weight="bold">F</text>
<text transform="translate(238.22,409.80) scale(1.0086,1.0000)" font-size="13.3" fill="#111">Mouse Hey1</text>
<line x1="222.70" y1="442.10" x2="222.70" y2="538.10" stroke="#cfcfd6" stroke-width="1" />
<line x1="222.70" y1="538.10" x2="350.80" y2="538.10" stroke="#cfcfd6" stroke-width="1" />
<text transform="translate(220.30,540.20) scale(0.95,1)" font-size="6.2" text-anchor="end" fill="#4a4a4a">0</text>
<text transform="translate(220.30,524.20) scale(0.95,1)" font-size="6.2" text-anchor="end" fill="#4a4a4a">1</text>
<text transform="translate(220.30,508.20) scale(0.95,1)" font-size="6.2" text-anchor="end" fill="#4a4a4a">2</text>
<text transform="translate(220.30,492.20) scale(0.95,1)" font-size="6.2" text-anchor="end" fill="#4a4a4a">3</text>
<text transform="translate(220.30,476.20) scale(0.95,1)" font-size="6.2" text-anchor="end" fill="#4a4a4a">4</text>
<text transform="translate(220.30,460.20) scale(0.95,1)" font-size="6.2" text-anchor="end" fill="#4a4a4a">5</text>
<text transform="translate(220.30,444.20) scale(0.95,1)" font-size="6.2" text-anchor="end" fill="#4a4a4a">6</text>
<text transform="translate(209.41,528.07) rotate(-90) scale(1.0172,1.0172)" font-size="9.8" fill="#222">Relative mRNA levels</text>
<line x1="254.90" y1="514.80" x2="254.90" y2="518.90" stroke="#c4c4c4" stroke-width="0.8" />
<line x1="252.90" y1="514.80" x2="256.90" y2="514.80" stroke="#c4c4c4" stroke-width="0.8" />
<rect x="242.10" y="518.90" width="25.60" height="19.20" fill="#6496f5" />
<line x1="317.90" y1="450.30" x2="317.90" y2="472.50" stroke="#c4c4c4" stroke-width="0.8" />
<line x1="315.90" y1="450.30" x2="319.90" y2="450.30" stroke="#c4c4c4" stroke-width="0.8" />
<rect x="305.40" y="472.50" width="25.00" height="65.60" fill="#fccd00" />
<polygon points="315.60,440.40 316.54,442.01 318.36,442.40 317.12,443.79 317.30,445.65 315.60,444.90 313.90,445.65 314.08,443.79 312.84,442.40 314.66,442.01" fill="#111"/>
<polygon points="320.80,440.40 321.74,442.01 323.56,442.40 322.32,443.79 322.50,445.65 320.80,444.90 319.10,445.65 319.28,443.79 318.04,442.40 319.86,442.01" fill="#111"/>
<text transform="translate(235.18,463.18) scale(1.0358,1.0000)" font-size="9.8" fill="#222"><tspan font-style="italic">P</tspan> = .003</text>
<text transform="translate(235.43,554.90) scale(1.0336,1.0000)" font-size="11.3" fill="#111" font-weight="bold">Vector</text>
<text transform="translate(306.76,554.90) scale(1.0255,1.0000)" font-size="11.3" fill="#111" font-weight="bold">Dll4</text>
<text transform="translate(373.62,397.97) scale(0.9514,1.0945)" font-size="24.4" fill="#000" font-weight="bold">G</text>
<text transform="translate(407.47,409.80) scale(1.0284,1.0000)" font-size="13.3" fill="#111">Mouse Hey2</text>
<line x1="392.90" y1="442.70" x2="392.90" y2="538.20" stroke="#cfcfd6" stroke-width="1" />
<line x1="392.90" y1="538.20" x2="515.00" y2="538.20" stroke="#cfcfd6" stroke-width="1" />
<text transform="translate(390.50,540.30) scale(0.95,1)" font-size="6.2" text-anchor="end" fill="#4a4a4a">0</text>
<text transform="translate(390.50,516.43) scale(0.95,1)" font-size="6.2" text-anchor="end" fill="#4a4a4a">1</text>
<text transform="translate(390.50,492.55) scale(0.95,1)" font-size="6.2" text-anchor="end" fill="#4a4a4a">2</text>
<text transform="translate(390.50,468.68) scale(0.95,1)" font-size="6.2" text-anchor="end" fill="#4a4a4a">3</text>
<text transform="translate(390.50,444.80) scale(0.95,1)" font-size="6.2" text-anchor="end" fill="#4a4a4a">4</text>
<text transform="translate(381.51,528.07) rotate(-90) scale(1.0172,1.0172)" font-size="9.8" fill="#222">Relative mRNA levels</text>
<line x1="425.10" y1="508.60" x2="425.10" y2="512.10" stroke="#c4c4c4" stroke-width="0.8" />
<line x1="423.10" y1="508.60" x2="427.10" y2="508.60" stroke="#c4c4c4" stroke-width="0.8" />
<rect x="412.30" y="512.10" width="25.60" height="26.10" fill="#6496f5" />
<line x1="487.80" y1="460.40" x2="487.80" y2="474.40" stroke="#c4c4c4" stroke-width="0.8" />
<line x1="485.80" y1="460.40" x2="489.80" y2="460.40" stroke="#c4c4c4" stroke-width="0.8" />
<rect x="475.00" y="474.40" width="25.60" height="63.80" fill="#fccd00" />
<polygon points="487.50,450.40 488.44,452.01 490.26,452.40 489.02,453.79 489.20,455.65 487.50,454.90 485.80,455.65 485.98,453.79 484.74,452.40 486.56,452.01" fill="#111"/>
<text transform="translate(406.88,463.25) scale(1.0232,1.0000)" font-size="9.8" fill="#222"><tspan font-style="italic">P</tspan> = .033</text>
<text transform="translate(408.11,554.90) scale(1.0512,1.0000)" font-size="11.3" fill="#111" font-weight="bold">Vector</text>
<text transform="translate(474.10,554.90) scale(1.0058,1.0000)" font-size="11.3" fill="#111" font-weight="bold">Dll4</text>
</svg>
</body></html>
